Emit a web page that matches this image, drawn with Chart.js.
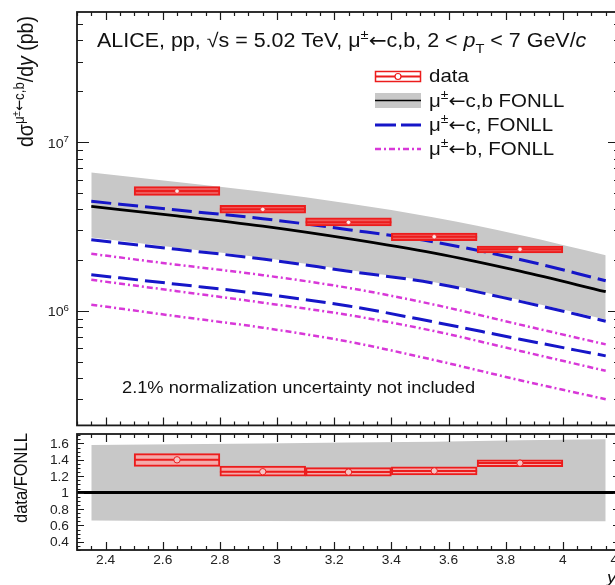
<!DOCTYPE html>
<html>
<head>
<meta charset="utf-8">
<script src="https://cdn.jsdelivr.net/npm/chart.js@4.4.0/dist/chart.umd.min.js"></script>
<style>
html, body { margin: 0; padding: 0; background: #fff; overflow: hidden; }
#wrap { position: relative; width: 615px; height: 585px; overflow: hidden; background: #fff; }
#top { position: absolute; left: 0; top: 0; }
#bot { position: absolute; left: 0; top: 429px; }
</style>
</head>
<body>
<div id="wrap">
  <canvas id="top" width="640" height="430"></canvas>
  <canvas id="bot" width="640" height="156"></canvas>
</div>
<script>
// FONLL curves, y = rapidity
const fonllX        = [2.35, 2.65, 2.95, 3.25, 3.55, 3.85, 4.15];
const fonllCentral  = [4.16e6, 3.66e6, 3.18e6, 2.68e6, 2.20e6, 1.72e6, 1.30e6];
const fonllBandHi   = [6.60e6, 5.80e6, 5.08e6, 4.33e6, 3.58e6, 2.82e6, 2.14e6];
const fonllBandLo   = [2.72e6, 2.37e6, 2.07e6, 1.75e6, 1.48e6, 1.16e6, 8.9e5];
const charmHi       = [4.46e6, 3.96e6, 3.52e6, 3.03e6, 2.56e6, 2.02e6, 1.51e6];
const charmCentral  = [2.64e6, 2.32e6, 2.03e6, 1.72e6, 1.46e6, 1.14e6, 8.7e5];
const charmLo       = [1.64e6, 1.44e6, 1.26e6, 1.07e6, 8.6e5, 6.8e5, 5.42e5];
const beautyHi      = [2.18e6, 1.88e6, 1.63e6, 1.37e6, 1.09e6, 8.3e5, 6.34e5];
const beautyCentral = [1.53e6, 1.31e6, 1.12e6, 9.46e5, 7.6e5, 5.8e5, 4.42e5];
const beautyLo      = [1.09e6, 9.3e5, 7.96e5, 6.58e5, 5.12e5, 3.89e5, 3.0e5];

// measured cross section
const binLo     = [2.5, 2.8, 3.1, 3.4, 3.7];
const binHi     = [2.8, 3.1, 3.4, 3.7, 4.0];
const binCenter = [2.65, 2.95, 3.25, 3.55, 3.85];
const dataVal   = [5.13e6, 4.00e6, 3.35e6, 2.75e6, 2.32e6];
const dataSysLo = [4.83e6, 3.80e6, 3.19e6, 2.61e6, 2.21e6];
const dataSysHi = [5.46e6, 4.22e6, 3.56e6, 2.89e6, 2.42e6];

// data / FONLL
const ratioVal    = [1.40, 1.255, 1.25, 1.265, 1.36];
const ratioSysLo  = [1.32, 1.20, 1.20, 1.215, 1.315];
const ratioSysHi  = [1.475, 1.325, 1.305, 1.315, 1.40];
const ratioBandHi = [1.58, 1.59, 1.60, 1.61, 1.62, 1.64, 1.65];
const ratioBandLo = [0.66, 0.655, 0.655, 0.65, 0.65, 0.65, 0.65];
const unityX = [2.3, 4.2];
const unityY = [1, 1];

// tick labels
const xTickLabels = [2.4, 2.6, 2.8, 3, 3.2, 3.4, 3.6, 3.8, 4, 4.2];
const yTopTickLabels = [6, 7];          // exponents of 10
const yRatioTickLabels = [0.4, 0.6, 0.8, 1, 1.2, 1.4, 1.6];

const SX = 1.1;   // the picture is a bit wider than tall
const FONT = '"Liberation Sans", Arial, Helvetica, sans-serif';
const ARROW_FONT = '"DejaVu Sans", sans-serif';
const RED = '#ec1c1c', PINK = '#f4aaaa', BLUE = '#1616c8', MAG = '#d838d8', GRAY = '#c8c8c8';

function pts(xs, ys) { return xs.map((x, i) => ({x: x, y: ys[i]})); }
function segs(lo, hi, v) {
  const out = [];
  lo.forEach((l, i) => { out.push({x: l, y: v[i]}, {x: hi[i], y: v[i]}, {x: hi[i], y: null}); });
  return out;
}
function curve(ys, color, width, dash, order) {
  return {type: 'line', data: pts(fonllX, ys), borderColor: color, borderWidth: width, borderDash: dash,
          pointRadius: 0, fill: false, cubicInterpolationMode: 'monotone', order: order};
}
// mu^{+-} <- text pieces, arrow in a font that has a long arrow
function mu(rest, sup) {
  return [{t: '\u03BC', sup: sup}, {t: '\u00B1', sup: true, sup2: sup}, {t: '\u2190', arrow: true, sup: sup}, {t: rest, sup: sup}];
}

function rich(ctx, parts, size, measureOnly) {
  let x = 0;
  parts.forEach(p => {
    let s = (p.sup || p.sub) ? size * 0.68 : size;
    let dy = p.sup ? -size * 0.42 : (p.sub ? size * 0.3 : 0);
    if (p.sup2) { s = size * 0.5; dy = -size * 0.62; }
    ctx.font = (p.it ? 'italic ' : '') + s.toFixed(1) + 'px ' + (p.arrow ? ARROW_FONT : FONT);
    if (!measureOnly) ctx.fillText(p.t, x, dy);
    x += ctx.measureText(p.t).width;
  });
  return x;
}
function richAt(ctx, parts, size, x, y, o) {
  o = o || {};
  ctx.save();
  ctx.fillStyle = o.color || '#111';
  ctx.textBaseline = 'alphabetic';
  ctx.textAlign = 'left';
  ctx.translate(x, y);
  if (o.rot) { ctx.rotate(-Math.PI / 2); ctx.scale(1, SX); } else { ctx.scale(SX, 1); }
  if (o.right) ctx.translate(-rich(ctx, parts, size, true), 0);
  if (o.center) ctx.translate(-rich(ctx, parts, size, true) / 2, 0);
  rich(ctx, parts, size);
  ctx.restore();
}

function xTickList(major, minor) {
  const out = [];
  for (let i = 0; i <= 38; i++) {
    const v = Math.round((2.3 + i * 0.05) * 100) / 100;
    const isMajor = Math.abs(v / 0.2 - Math.round(v / 0.2)) < 1e-6;
    out.push([v, isMajor ? major : minor]);
  }
  return out;
}

function frameAndTicks(chart, xTicks, yTicks) {
  const {ctx, chartArea: a} = chart;
  const xs = chart.scales.x, ys = chart.scales.y;
  ctx.save();
  ctx.strokeStyle = '#1a1a1a';
  ctx.lineWidth = 1.2;
  ctx.beginPath();
  xTicks.forEach(([v, len]) => {
    const p = Math.round(xs.getPixelForValue(v)) + 0.5;
    ctx.moveTo(p, a.bottom); ctx.lineTo(p, a.bottom - len);
    ctx.moveTo(p, a.top); ctx.lineTo(p, a.top + len);
  });
  yTicks.forEach(([v, len]) => {
    const p = Math.round(ys.getPixelForValue(v)) + 0.5;
    ctx.moveTo(a.left, p); ctx.lineTo(a.left + len, p);
    ctx.moveTo(a.right, p); ctx.lineTo(a.right - len, p);
  });
  ctx.stroke();
  ctx.lineWidth = 1.8;
  ctx.strokeRect(a.left, a.top, a.right - a.left, a.bottom - a.top);
  ctx.restore();
}

const noTicks = s => { s.ticks = []; };

// ---------- top panel ----------
const topDecor = {
  id: 'topDecor',
  afterDraw(chart) {
    const ctx = chart.ctx;
    const ys = chart.scales.y;
    const yt = [];
    for (let d = 5; d <= 7; d++) for (let k = 1; k <= 9; k++) {
      const v = k * Math.pow(10, d);
      if (v > ys.min && v < ys.max) yt.push([v, k === 1 ? 12 : 6]);
    }
    frameAndTicks(chart, xTickList(8, 4), yt);

    yTopTickLabels.forEach(e => {
      const p = ys.getPixelForValue(Math.pow(10, e));
      richAt(ctx, [{t: '10'}, {t: String(e), sup: true}], 13, 69, p + 5.5, {right: true, color: '#222'});
    });

    // title
    richAt(ctx, [{t: 'ALICE, pp, \u221As = 5.02 TeV, '}].concat(mu('c,b, 2 < '),
                 [{t: 'p', it: true}, {t: 'T', sub: true}, {t: ' < 7 GeV/'}, {t: 'c', it: true}]), 19.5, 97, 47);

    // legend
    ctx.save();
    ctx.strokeStyle = RED; ctx.lineWidth = 1.5;
    ctx.strokeRect(375.5, 71.5, 45, 10);
    ctx.lineWidth = 2;
    ctx.beginPath(); ctx.moveTo(375, 76.5); ctx.lineTo(421, 76.5); ctx.stroke();
    ctx.fillStyle = '#fff'; ctx.lineWidth = 1.2;
    ctx.beginPath(); ctx.arc(398, 76.5, 3, 0, 2 * Math.PI); ctx.fill(); ctx.stroke();
    ctx.fillStyle = GRAY; ctx.fillRect(375, 93, 46, 15);
    ctx.strokeStyle = '#000'; ctx.lineWidth = 1.5;
    ctx.beginPath(); ctx.moveTo(375, 100.5); ctx.lineTo(421, 100.5); ctx.stroke();
    ctx.strokeStyle = BLUE; ctx.lineWidth = 3; ctx.setLineDash([21, 5]);
    ctx.beginPath(); ctx.moveTo(375, 125); ctx.lineTo(421, 125); ctx.stroke();
    ctx.strokeStyle = MAG; ctx.lineWidth = 2.5; ctx.setLineDash([6, 3, 2, 3]);
    ctx.beginPath(); ctx.moveTo(375, 149); ctx.lineTo(421, 149); ctx.stroke();
    ctx.restore();
    const lg = 18.6;
    richAt(ctx, [{t: 'data'}], lg, 429, 82);
    richAt(ctx, mu('c,b FONLL'), lg, 429, 107);
    richAt(ctx, mu('c, FONLL'), lg, 429, 131);
    richAt(ctx, mu('b, FONLL'), lg, 429, 155);

    richAt(ctx, [{t: '2.1% normalization uncertainty not included'}], 16.6, 122, 393);

    // y title
    richAt(ctx, [{t: 'd\u03C3'}].concat(mu('c,b', true), [{t: '/d'}, {t: 'y', it: true}, {t: ' (pb)'}]),
           19.5, 33, 147, {rot: true});
  }
};

new Chart(document.getElementById('top'), {
  type: 'line',
  data: {
    datasets: [
      {type: 'line', data: pts(binCenter, dataVal), showLine: false, pointRadius: 2.2,
       pointBackgroundColor: '#fbeaea', pointBorderColor: RED, pointBorderWidth: 0.6, order: 0},
      {type: 'line', data: segs(binLo, binHi, dataVal), borderColor: RED, borderWidth: 2,
       pointRadius: 0, spanGaps: false, fill: false, order: 1},
      {type: 'bar', data: binCenter.map((x, i) => ({x: x, y: [dataSysLo[i], dataSysHi[i]]})),
       backgroundColor: '#f05a5a', borderColor: RED, borderWidth: 2, borderSkipped: false,
       barPercentage: 1, categoryPercentage: 1, order: 2},
      curve(fonllCentral, '#000', 2.8, [], 3),
      curve(charmHi, BLUE, 3, [20, 7], 4),
      curve(charmCentral, BLUE, 3, [20, 7], 4),
      curve(charmLo, BLUE, 3, [20, 7], 4),
      curve(beautyHi, MAG, 2.5, [6, 3, 2, 3], 4),
      curve(beautyCentral, MAG, 2.5, [6, 3, 2, 3], 4),
      curve(beautyLo, MAG, 2.5, [6, 3, 2, 3], 4),
      {type: 'line', data: pts(fonllX, fonllBandLo), borderWidth: 0, pointRadius: 0, fill: false,
       cubicInterpolationMode: 'monotone', order: 10},
      {type: 'line', data: pts(fonllX, fonllBandHi), borderWidth: 0, pointRadius: 0, fill: '-1',
       backgroundColor: GRAY, cubicInterpolationMode: 'monotone', order: 10}
    ]
  },
  options: {
    responsive: false,
    animation: false,
    layout: {padding: {left: 77, right: 20, top: 12, bottom: 2}},
    scales: {
      x: {type: 'linear', min: 2.3, max: 4.2, offset: false, display: false, afterBuildTicks: noTicks},
      y: {type: 'logarithmic', min: 2.1e5, max: 5.9e7, display: false, afterBuildTicks: noTicks}
    },
    plugins: {legend: {display: false}, tooltip: {enabled: false}}
  },
  plugins: [topDecor]
});

// ---------- ratio panel ----------
const botDecor = {
  id: 'botDecor',
  afterDraw(chart) {
    const ctx = chart.ctx;
    const xs = chart.scales.x, ys = chart.scales.y;
    const yt = [];
    for (let i = 0; i <= 28; i++) {
      const v = Math.round((0.3 + i * 0.05) * 100) / 100;
      if (v >= ys.min && v <= ys.max) yt.push([v, Math.abs(v / 0.2 - Math.round(v / 0.2)) < 1e-6 ? 7 : 3.5]);
    }
    frameAndTicks(chart, xTickList(8, 4), yt);
    yRatioTickLabels.forEach(v => {
      richAt(ctx, [{t: String(v)}], 12.5, 69, ys.getPixelForValue(v) + 4.5, {right: true, color: '#222'});
    });
    xTickLabels.forEach(v => {
      richAt(ctx, [{t: String(v)}], 12.5, xs.getPixelForValue(v), 135, {center: true, color: '#222'});
    });
    richAt(ctx, [{t: 'data/FONLL'}], 16.5, 27, 94, {rot: true});
    richAt(ctx, [{t: 'y', it: true}], 17, 607, 154);
  }
};

new Chart(document.getElementById('bot'), {
  type: 'line',
  data: {
    datasets: [
      {type: 'line', data: pts(binCenter, ratioVal), showLine: false, pointRadius: 3.2,
       pointBackgroundColor: '#f6c4c4', pointBorderColor: RED, pointBorderWidth: 1, order: 0},
      {type: 'line', data: segs(binLo, binHi, ratioVal), borderColor: RED, borderWidth: 2,
       pointRadius: 0, spanGaps: false, fill: false, order: 1},
      {type: 'bar', data: binCenter.map((x, i) => ({x: x, y: [ratioSysLo[i], ratioSysHi[i]]})),
       backgroundColor: PINK, borderColor: RED, borderWidth: 2, borderSkipped: false,
       barPercentage: 1, categoryPercentage: 1, order: 2},
      {type: 'line', data: pts(unityX, unityY), borderColor: '#000', borderWidth: 3, pointRadius: 0,
       fill: false, order: 3},
      {type: 'line', data: pts(fonllX, ratioBandLo), borderWidth: 0, pointRadius: 0, fill: false, order: 10},
      {type: 'line', data: pts(fonllX, ratioBandHi), borderWidth: 0, pointRadius: 0, fill: '-1',
       backgroundColor: GRAY, order: 10}
    ]
  },
  options: {
    responsive: false,
    animation: false,
    layout: {padding: {left: 77, right: 20, top: 2, bottom: 35}},
    scales: {
      x: {type: 'linear', min: 2.3, max: 4.2, offset: false, display: false, afterBuildTicks: noTicks},
      y: {type: 'linear', min: 0.3, max: 1.715, display: false, afterBuildTicks: noTicks}
    },
    plugins: {legend: {display: false}, tooltip: {enabled: false}}
  },
  plugins: [botDecor]
});
</script>
</body>
</html>
